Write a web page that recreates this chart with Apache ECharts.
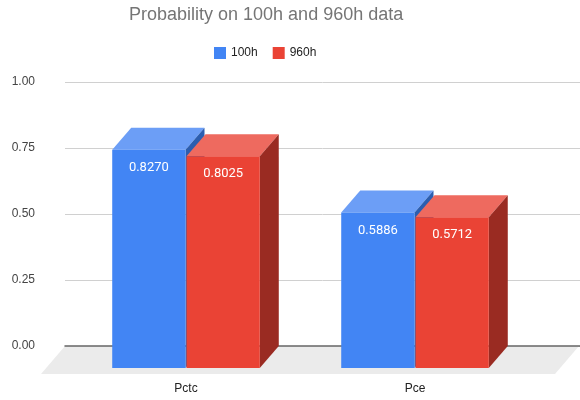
<!DOCTYPE html>
<html>
<head>
<meta charset="utf-8">
<script src="https://cdn.jsdelivr.net/npm/echarts@6/dist/echarts.min.js"></script>
<style>
  html, body { margin: 0; padding: 0; background: #fff; }
  #chart { width: 580px; height: 400px; }
</style>
</head>
<body>
<div id="chart"></div>
<script>
// chart data
var categories = ['Pctc', 'Pce'];
var seriesNames = ['100h', '960h'];
var values100h = [0.8270, 0.5886];
var values960h = [0.8025, 0.5712];

// 3d look: offset of the back plane from the front plane
var DX = 19, DY = 22;
var colors = [
  { front: '#4285f4', top: '#6c9ef6', side: '#2c5eb0' },
  { front: '#ea4335', top: '#ee6a5f', side: '#9a2b22' }
];

function barItem(si) {
  return function (params, api) {
    var idx = api.value(0);
    var v = api.value(1);
    var base = api.coord([idx, 0]);
    var top = api.coord([idx, v]);
    var band = api.size([1, 0])[0];
    var w = band * 0.32;
    var x0 = si === 0 ? base[0] - w - 0.5 : base[0] + 0.5;
    var x1 = x0 + w;
    var c = colors[si];
    return {
      type: 'group',
      children: [
        { type: 'polygon', shape: { points: [[x0, top[1]], [x1, top[1]], [x1 + DX, top[1] - DY], [x0 + DX, top[1] - DY]] }, style: { fill: c.top } },
        { type: 'polygon', shape: { points: [[x1, top[1]], [x1 + DX, top[1] - DY], [x1 + DX, base[1] - DY], [x1, base[1]]] }, style: { fill: c.side } },
        { type: 'rect', shape: { x: x0, y: top[1], width: w, height: base[1] - top[1] }, style: { fill: c.front } },
        { type: 'text', x: (x0 + x1) / 2, y: top[1] + 18, style: {
            text: v.toFixed(4), fill: '#fff', font: '13px Roboto', textAlign: 'center', textVerticalAlign: 'middle' } }
      ]
    };
  };
}

function floorItem(params, api) {
  var cs = params.coordSys;
  var yb = cs.y + cs.height; // front zero line
  return {
    type: 'polygon',
    silent: true,
    shape: { points: [
      [65, yb - DY], [579, yb - DY], [555, yb + 6], [41, yb + 6]
    ] },
    style: { fill: '#ebebeb' }
  };
}

var chart = echarts.init(document.getElementById('chart'));
chart.setOption({
  animation: false,
  textStyle: { fontFamily: 'Liberation Sans, Arial, sans-serif' },
  title: {
    text: 'Probability on 100h and 960h data',
    left: 124, top: 1,
    textStyle: { fontSize: 18, fontWeight: 'normal', color: '#757575' }
  },
  legend: {
    data: seriesNames,
    top: 42, left: 209,
    itemWidth: 12, itemHeight: 12, itemGap: 15,
    icon: 'rect',
    textStyle: { fontSize: 12, color: '#222' }
  },
  grid: [
    // back plane (gridlines)
    { left: 65, right: 0, top: 82, bottom: 54 },
    // front plane (bars)
    { left: 71.5, right: 50.5, top: 104, bottom: 32 }
  ],
  xAxis: [
    { type: 'category', gridIndex: 0, data: categories,
      axisLabel: { show: false }, axisTick: { show: false },
      axisLine: { show: true, lineStyle: { color: '#666', width: 1.5 } } },
    { type: 'category', gridIndex: 1, data: categories,
      axisLabel: { fontSize: 12, color: '#222', margin: 15 },
      axisTick: { show: false }, axisLine: { show: false } }
  ],
  yAxis: [
    { type: 'value', gridIndex: 0, min: 0, max: 1, interval: 0.25,
      axisLabel: { fontSize: 12, color: '#444', margin: 30,
        formatter: function (v) { return v.toFixed(2); } },
      splitLine: { lineStyle: { color: '#d0d0d0' } },
      axisLine: { show: false }, axisTick: { show: false } },
    { type: 'value', gridIndex: 1, min: 0, max: 1, show: false,
      splitLine: { show: false } }
  ],
  series: [
    { type: 'custom', name: 'floor', xAxisIndex: 1, yAxisIndex: 1, z: 0, silent: true,
      renderItem: floorItem, data: [[0, 0]] },
    { type: 'custom', name: seriesNames[0], xAxisIndex: 1, yAxisIndex: 1, z: 3,
      itemStyle: { color: colors[0].front },
      renderItem: barItem(0),
      data: values100h.map(function (v, i) { return [i, v]; }) },
    { type: 'custom', name: seriesNames[1], xAxisIndex: 1, yAxisIndex: 1, z: 3,
      itemStyle: { color: colors[1].front },
      renderItem: barItem(1),
      data: values960h.map(function (v, i) { return [i, v]; }) }
  ]
});
</script>
</body>
</html>
